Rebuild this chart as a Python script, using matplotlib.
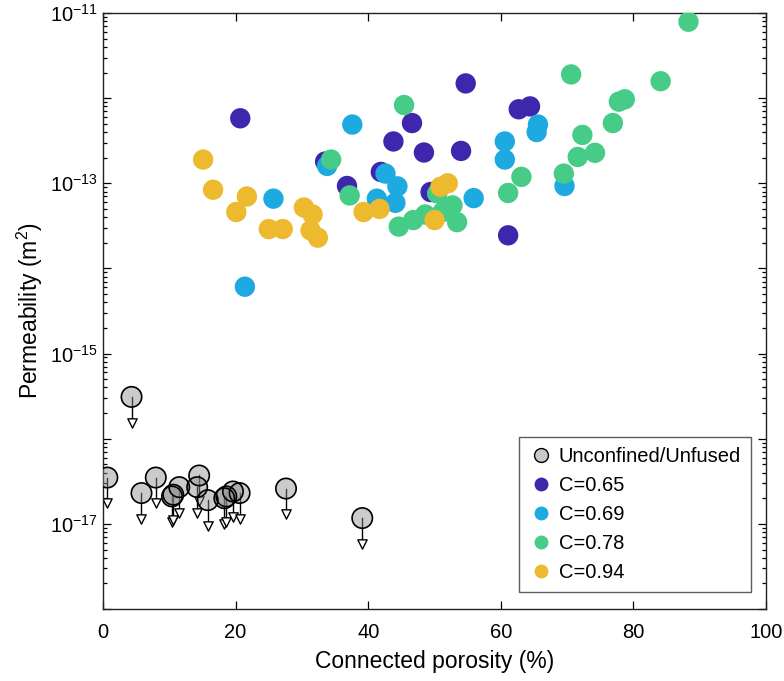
import matplotlib
matplotlib.use("Agg")
import matplotlib.pyplot as plt
import numpy as np
from matplotlib.ticker import FixedLocator, FuncFormatter, LogLocator, NullFormatter
from matplotlib.lines import Line2D

plt.rcParams['font.family'] = ['Liberation Sans', 'DejaVu Sans']
plt.rcParams['mathtext.fontset'] = 'custom'
plt.rcParams['mathtext.rm'] = 'Liberation Sans'
plt.rcParams['mathtext.it'] = 'Liberation Sans'

# Unconfined / unfused (upper bounds)
unc_x = [4.3, 0.65, 5.8, 7.96, 10.4, 10.6, 11.5, 14.5, 14.2, 15.8, 18.3, 18.6, 19.6, 20.6, 27.6, 39.1]
unc_y = [3.1e-16, 3.5e-17, 2.3e-17, 3.5e-17, 2.1e-17, 2.2e-17, 2.7e-17, 3.7e-17, 2.7e-17,
         1.9e-17, 2.0e-17, 2.1e-17, 2.4e-17, 2.3e-17, 2.6e-17, 1.17e-17]

c065_x = [20.7, 33.5, 36.8, 41.9, 43.8, 46.6, 48.4, 49.4, 54.0, 54.7, 61.1, 62.7, 64.4]
c065_y = [5.8e-13, 1.8e-13, 9.3e-14, 1.36e-13, 3.1e-13, 5.1e-13, 2.3e-13, 7.9e-14, 2.4e-13,
          1.49e-12, 2.45e-14, 7.4e-13, 8.0e-13]

c069_x = [21.4, 25.7, 33.8, 37.6, 41.3, 42.6, 44.1, 44.4, 55.9, 60.6, 60.6, 65.4, 65.6, 69.6]
c069_y = [6.1e-15, 6.6e-14, 1.6e-13, 4.9e-13, 6.6e-14, 1.3e-13, 5.9e-14, 9.2e-14, 6.7e-14,
          3.1e-13, 1.9e-13, 4.0e-13, 4.9e-13, 9.3e-14]

c078_x = [34.4, 37.2, 44.6, 45.4, 46.8, 48.6, 50.4, 51.2, 52.7, 53.4, 61.1, 63.1, 69.5, 70.6,
          71.6, 72.3, 74.2, 76.9, 77.8, 78.7, 84.1, 88.3]
c078_y = [1.9e-13, 7.2e-14, 3.1e-14, 8.3e-13, 3.7e-14, 4.3e-14, 7.6e-14, 4.6e-14, 5.5e-14,
          3.5e-14, 7.7e-14, 1.19e-13, 1.3e-13, 1.9e-12, 2.04e-13, 3.7e-13, 2.28e-13, 5.1e-13,
          9.1e-13, 9.7e-13, 1.58e-12, 7.9e-12]

c094_x = [15.1, 16.6, 20.1, 21.7, 25.0, 27.1, 30.3, 31.3, 31.6, 32.4, 39.3, 41.7, 50.0, 50.9, 52.0]
c094_y = [1.9e-13, 8.4e-14, 4.6e-14, 7.0e-14, 2.9e-14, 2.9e-14, 5.2e-14, 2.8e-14, 4.3e-14,
          2.3e-14, 4.6e-14, 5.0e-14, 3.7e-14, 9.1e-14, 1.0e-13]

labels = ['Unconfined/Unfused', 'C=0.65', 'C=0.69', 'C=0.78', 'C=0.94']
colors = ['#3F27AD', '#1DAAE0', '#47CC88', '#EDB92F']

fig = plt.figure(figsize=(7.84, 6.81), dpi=100)
ax = fig.add_axes([0.1314, 0.1057, 0.8457, 0.8752])

S = 215
# arrows for upper bounds
for x, y in zip(unc_x, unc_y):
    ax.plot([x, x], [y, y / 2.0], color='black', lw=1.0, zorder=2)
ax.scatter(unc_x, np.array(unc_y) / 2.0, marker='v', s=45, facecolor='white',
           edgecolor='black', linewidths=1.0, zorder=2)
ax.scatter(unc_x, unc_y, s=S, facecolor='0.55', alpha=0.45, edgecolor='none', zorder=3)
ax.scatter(unc_x, unc_y, s=S, facecolor='none', edgecolor='black', linewidths=1.2, zorder=3)

for xs, ys, c in zip([c065_x, c069_x, c078_x, c094_x], [c065_y, c069_y, c078_y, c094_y], colors):
    ax.scatter(xs, ys, s=S, color=c, edgecolor='none', zorder=4)

ax.set_yscale('log')
ax.set_xlim(0, 100)
ax.set_ylim(1e-18, 1e-11)
ax.set_xticks([0, 20, 40, 60, 80, 100])
ax.yaxis.set_major_locator(FixedLocator([10.0 ** e for e in range(-18, -10)]))
ax.yaxis.set_minor_locator(LogLocator(base=10, subs=np.arange(2, 10), numticks=20))
ax.yaxis.set_minor_formatter(NullFormatter())


def yfmt(v, pos):
    e = int(round(np.log10(v)))
    if e % 2 != 0:
        return r'$\mathregular{10^{%d}}$' % e
    return ''


ax.yaxis.set_major_formatter(FuncFormatter(yfmt))
ax.tick_params(which='both', direction='in', top=True, right=True, labelsize=14.5, width=0.9)
ax.tick_params(which='major', length=6)
ax.tick_params(which='minor', length=3)
ax.tick_params(axis='x', pad=10)
for sp in ax.spines.values():
    sp.set_linewidth(1.0)
    sp.set_color('#222222')

ax.set_xlabel('Connected porosity (%)', fontsize=16.5, labelpad=6)
ax.set_ylabel(r'Permeability (m$^\mathregular{2}$)', fontsize=16.5, labelpad=4)

handles = [Line2D([], [], marker='o', ls='none', markersize=10, markerfacecolor='#C8C8C8',
                  markeredgecolor='black', markeredgewidth=1.0)]
for c in colors:
    handles.append(Line2D([], [], marker='o', ls='none', markersize=10, markerfacecolor=c,
                          markeredgecolor='none'))
leg = ax.legend(handles, labels, loc='lower right', bbox_to_anchor=(0.9775, 0.028),
                fontsize=14.5, frameon=True, fancybox=False, handletextpad=0.3,
                handlelength=1.2, borderpad=0.5, labelspacing=0.5, borderaxespad=0)
leg.get_frame().set_edgecolor('#333333')
leg.get_frame().set_linewidth(1.0)

fig.savefig('out.png', dpi=100)
